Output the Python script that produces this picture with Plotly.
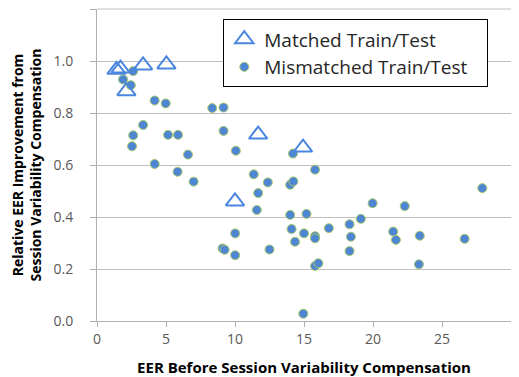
import plotly.graph_objects as go

# Matched Train/Test (open triangles)
matched_x = [1.41, 1.70, 2.13, 3.34, 5.03, 11.68, 14.93, 10.0]
matched_y = [0.966, 0.971, 0.884, 0.983, 0.987, 0.717, 0.667, 0.46]

# Mismatched Train/Test (filled circles)
mismatched_x = [2.62, 1.89, 2.45, 4.18, 4.98, 3.34, 2.62, 5.15, 5.87, 2.54,
                6.59, 4.18, 5.84, 7.0, 8.35, 9.17, 9.17, 10.06, 14.2, 11.36,
                12.38, 14.0, 14.23, 11.68, 11.58, 14.0, 14.1, 14.35, 10.01, 9.1,
                9.25, 10.01, 12.5, 14.95, 15.8, 19.97, 15.18, 19.12, 18.3, 15.0,
                16.8, 15.8, 15.8, 18.4, 21.46, 21.66, 18.3, 15.8, 16.04, 22.3,
                23.39, 26.64, 23.33, 27.92]
mismatched_y = [0.961, 0.929, 0.907, 0.848, 0.837, 0.754, 0.714, 0.716, 0.716, 0.672,
                0.640, 0.604, 0.574, 0.536, 0.819, 0.821, 0.731, 0.655, 0.644, 0.564,
                0.533, 0.524, 0.537, 0.492, 0.427, 0.408, 0.354, 0.305, 0.337, 0.279,
                0.274, 0.253, 0.275, 0.028, 0.582, 0.453, 0.412, 0.393, 0.372, 0.337,
                0.357, 0.326, 0.318, 0.324, 0.344, 0.312, 0.269, 0.212, 0.222, 0.442,
                0.328, 0.316, 0.218, 0.511]

x_ticks = [0, 5, 10, 15, 20, 25, 30]
y_ticks = [0.0, 0.2, 0.4, 0.6, 0.8, 1.0, 1.2]
y_tick_labels = ["0.0", "0.2", "0.4", "0.6", "0.8", "1.0", ""]

x_title = "EER Before Session Variability Compensation"
y_title = "Relative EER Improvement from<br>Session Variability Compensation"
matched_name = "Matched Train/Test"
mismatched_name = "Mismatched Train/Test"

fig = go.Figure()
fig.add_trace(go.Scatter(
    x=mismatched_x, y=mismatched_y, mode="markers",
    name=mismatched_name + "\u00a0\u00a0\u00a0",
    marker=dict(symbol="circle", size=9, color="#4F86D4",
                line=dict(color="#A6C86A", width=1)),
))
fig.add_trace(go.Scatter(
    x=matched_x, y=matched_y, mode="markers", name=matched_name,
    marker=dict(symbol="triangle-up-open", size=16, color="#4A86E0",
                line=dict(color="#4A86E0", width=2)),
))

# top gridline (at the upper edge of the plot area)
fig.add_shape(type="line", xref="paper", yref="paper", x0=0, x1=1, y0=1, y1=1,
              line=dict(color="#BFBFBF", width=1), layer="below")

# the page body adds an 8px offset, so the figure is drawn 8px smaller
fig.update_layout(
    width=511, height=369, autosize=False,
    margin=dict(l=88.5, r=8, t=1.2, b=56.3, pad=0),
    paper_bgcolor="white", plot_bgcolor="white",
    font=dict(family="Open Sans, sans-serif", color="#595959", size=14),
    showlegend=True,
    legend=dict(
        x=0.305, y=0.967, xanchor="left", yanchor="top",
        bgcolor="white", bordercolor="black", borderwidth=1,
        font=dict(size=19, color="#262626", family="Open Sans, sans-serif"),
        traceorder="reversed",
    ),
    xaxis=dict(
        range=[0, 30], tickvals=x_ticks, ticktext=[str(v) for v in x_ticks],
        showgrid=False, zeroline=False,
        showline=True, linecolor="#B0B0B0", linewidth=1,
        ticks="outside", ticklen=5, tickcolor="#B0B0B0",
        tickfont=dict(size=14, color="#595959"),
        title=dict(text=x_title, standoff=15,
                   font=dict(size=15, color="black", family="Open Sans, sans-serif", weight="bold")),
        automargin=False,
    ),
    yaxis=dict(
        range=[0, 1.2], tickvals=y_ticks, ticktext=y_tick_labels,
        showgrid=True, gridcolor="#BFBFBF", gridwidth=1, zeroline=False,
        showline=True, linecolor="#B0B0B0", linewidth=1,
        ticks="outside", ticklen=6, tickcolor="#B0B0B0",
        tickfont=dict(size=14, color="#595959"),
        ticklabelstandoff=14,
        title=dict(text=y_title, standoff=10,
                   font=dict(size=14, color="black", family="Open Sans, sans-serif", weight="bold")),
        automargin=False,
    ),
)

fig.write_html("out.html")
